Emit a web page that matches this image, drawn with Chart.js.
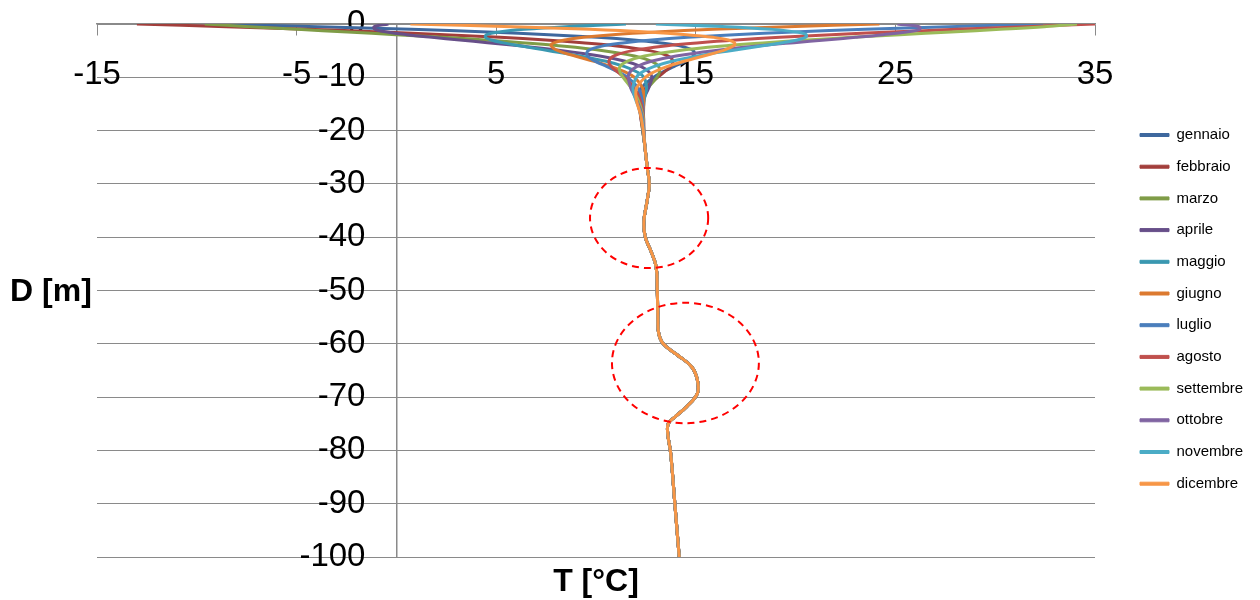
<!DOCTYPE html>
<html>
<head>
<meta charset="utf-8">
<script src="https://cdn.jsdelivr.net/npm/chart.js@4.4.1/dist/chart.umd.min.js"></script>
<style>
  html, body { margin: 0; padding: 0; background: #ffffff; overflow: hidden; }
  #wrap { width: 1260px; height: 600px; overflow: hidden; }
  #c { display: block; }
</style>
</head>
<body>
<div id="wrap"><canvas id="c" width="1260" height="600"></canvas></div>
<script>
// ---------- DATA ----------
const months = ['gennaio', 'febbraio', 'marzo', 'aprile', 'maggio', 'giugno',
                'luglio', 'agosto', 'settembre', 'ottobre', 'novembre', 'dicembre'];

const xTickValues = [-15, -5, 5, 15, 25, 35];

// depths (m) of the shallow, month-dependent part
const depthUpper = [0, -0.5, -1, -1.5, -2, -2.5, -3, -3.5, -4, -5, -6, -7, -8, -9, -10, -12, -14, -17, -20];

const tGennaio   = [-9.5, -3.93, 0.73, 4.58, 7.64, 10.07, 11.89, 13.17, 14.05, 14.88, 14.88, 14.46, 13.90, 13.34, 12.89, 12.28, 12.10, 12.22, 12.35];
const tFebbraio  = [-13, -8.53, -4.45, -0.78, 2.42, 5.19, 7.48, 9.31, 10.76, 12.68, 13.60, 13.86, 13.73, 13.43, 13.09, 12.49, 12.21, 12.23, 12.34];
const tMarzo     = [-9.6, -7.38, -4.96, -2.46, -0.02, 2.32, 4.44, 6.29, 7.90, 10.37, 11.93, 12.79, 13.14, 13.18, 13.05, 12.61, 12.32, 12.27, 12.34];
const tAprile    = [-0.4, -1.11, -1.08, -0.47, 0.52, 1.79, 3.17, 4.56, 5.91, 8.32, 10.19, 11.47, 12.26, 12.66, 12.80, 12.64, 12.41, 12.31, 12.35];
const tMaggio    = [11.5, 8.48, 6.40, 5.14, 4.52, 4.46, 4.76, 5.30, 6.00, 7.64, 9.21, 10.50, 11.44, 12.05, 12.40, 12.53, 12.43, 12.35, 12.36];
const tGiugno    = [24.2, 19.60, 15.87, 12.98, 10.83, 9.37, 8.44, 7.92, 7.74, 8.10, 8.95, 9.91, 10.77, 11.45, 11.93, 12.33, 12.39, 12.38, 12.38];
const tLuglio    = [32.4, 27.68, 23.48, 19.90, 16.93, 14.59, 12.79, 11.44, 10.50, 9.61, 9.57, 9.98, 10.55, 11.11, 11.58, 12.11, 12.30, 12.38, 12.39];
const tAgosto    = [35, 31.53, 28.05, 24.78, 21.78, 19.21, 17.02, 15.19, 13.74, 11.82, 10.90, 10.64, 10.77, 11.07, 11.41, 11.91, 12.19, 12.37, 12.40];
const tSettembre = [34.1, 32.47, 30.25, 27.79, 25.23, 22.81, 20.56, 18.52, 16.76, 14.09, 12.43, 11.55, 11.20, 11.20, 11.36, 11.76, 12.08, 12.34, 12.40];
const tOttobre   = [25.1, 26.19, 26.22, 25.55, 24.39, 23.01, 21.49, 19.93, 18.45, 15.90, 14.01, 12.77, 12.04, 11.70, 11.62, 11.74, 12.00, 12.30, 12.40];
const tNovembre  = [13.0, 16.54, 18.78, 20.04, 20.53, 20.51, 20.08, 19.36, 18.52, 16.73, 15.09, 13.80, 12.89, 12.32, 12.02, 11.85, 11.97, 12.26, 12.38];
const tDicembre  = [0.7, 5.82, 9.70, 12.56, 14.54, 15.88, 16.64, 16.93, 16.94, 16.34, 15.39, 14.40, 13.55, 12.90, 12.47, 12.04, 12.01, 12.23, 12.37];

// deep part, identical for every month
const depthDeep = [-23, -27, -30, -33, -37, -40, -42.5, -45.5, -50, -55, -58, -60, -62, -64.3, -66.8, -69.3, -71.8, -73.7, -75, -77, -80.5, -90, -100];
const tempDeep  = [12.45, 12.57, 12.67, 12.57, 12.40, 12.47, 12.74, 13.01, 13.07, 13.10, 13.14, 13.37, 14.04, 14.79, 15.08, 15.08, 14.54, 13.96, 13.62, 13.60, 13.74, 13.95, 14.17];

// highlighted zones (dashed ellipses), in data units
const zoneCenterT = [12.66, 14.48];
const zoneCenterD = [-36.4, -63.6];
const zoneHalfT   = [2.96, 3.68];
const zoneHalfD   = [9.4, 11.3];

// ---------- STYLE ----------
const monthTemps = [tGennaio, tFebbraio, tMarzo, tAprile, tMaggio, tGiugno,
                    tLuglio, tAgosto, tSettembre, tOttobre, tNovembre, tDicembre];
const monthColors = ['#3E689E', '#A23E3B', '#7F9C47', '#674F89', '#3A98B1', '#DC7A30',
                     '#4A7EBC', '#C0504D', '#9BBB59', '#8064A2', '#4BACC6', '#F79646'];
const FONT = '"Liberation Sans", Arial, sans-serif';
const AXIS_GRAY = '#8a8a8a';
const Y_LABEL_AT = -1.55;   // x value where the depth labels are right-aligned

function buildPoints(upper) {
  const pts = depthUpper.map((d, i) => ({ x: upper[i], y: d }));
  return pts.concat(depthDeep.map((d, i) => ({ x: tempDeep[i], y: d })));
}

const datasets = months.map((m, i) => ({
  label: m,
  data: buildPoints(monthTemps[i]),
  borderColor: monthColors[i],
  backgroundColor: monthColors[i],
  borderWidth: 3,
  pointRadius: 0,
  pointHoverRadius: 0,
  showLine: true,
  tension: 0.4,
  order: months.length - i
}));

const zonePlugin = {
  id: 'zones',
  afterDatasetsDraw(chart) {
    const { ctx, scales: { x, y } } = chart;
    ctx.save();
    ctx.strokeStyle = '#FF0000';
    ctx.lineWidth = 2;
    ctx.setLineDash([7, 5]);
    for (let i = 0; i < zoneCenterT.length; i++) {
      const cx = x.getPixelForValue(zoneCenterT[i]);
      const cy = y.getPixelForValue(zoneCenterD[i]);
      const rx = Math.abs(x.getPixelForValue(zoneCenterT[i] + zoneHalfT[i]) - cx);
      const ry = Math.abs(y.getPixelForValue(zoneCenterD[i] + zoneHalfD[i]) - cy);
      ctx.beginPath();
      ctx.ellipse(cx, cy, rx, ry, 0, 0, Math.PI * 2);
      ctx.stroke();
    }
    ctx.restore();
  }
};

const axisTitlePlugin = {
  id: 'axisTitles',
  afterDraw(chart) {
    const { ctx, chartArea: ca, scales: { y } } = chart;
    ctx.save();
    ctx.fillStyle = '#000';
    ctx.font = 'bold 32px ' + FONT;
    ctx.textAlign = 'center';
    ctx.textBaseline = 'middle';
    ctx.fillText('D [m]', 51, y.getPixelForValue(-50) + 2);
    ctx.fillText('T [°C]', (ca.left + ca.right) / 2, ca.bottom + 25);
    ctx.restore();
  }
};

new Chart(document.getElementById('c'), {
  type: 'scatter',
  data: { datasets },
  options: {
    responsive: false,
    animation: false,
    devicePixelRatio: 1,
    layout: { padding: { left: 97, top: 24, bottom: 43, right: 16.7 } },
    scales: {
      x: {
        type: 'linear',
        min: -15,
        max: 35,
        position: { y: 0 },
        afterBuildTicks(scale) { scale.ticks = xTickValues.map(v => ({ value: v })); },
        grid: { drawOnChartArea: false, drawTicks: true, tickLength: 11, color: AXIS_GRAY, lineWidth: 1 },
        border: { display: true, color: AXIS_GRAY, width: 1.5 },
        ticks: { color: '#000', font: { family: FONT, size: 33 }, padding: 20, maxRotation: 0, autoSkip: false }
      },
      y: {
        type: 'linear',
        min: -100,
        max: 0,
        position: { x: 0 },
        grid: { drawOnChartArea: true, drawTicks: false, color: AXIS_GRAY, lineWidth: 1 },
        border: { display: true, color: AXIS_GRAY, width: 1.5 },
        ticks: { stepSize: 10, display: false }
      },
      yLabels: {
        type: 'linear',
        axis: 'y',
        min: -100,
        max: 0,
        position: { x: Y_LABEL_AT },
        grid: { display: false },
        border: { display: false },
        ticks: { stepSize: 10, color: '#000', font: { family: FONT, size: 33 }, padding: 0 }
      },
      gap: {
        type: 'linear',
        axis: 'y',
        position: 'right',
        display: true,
        grid: { display: false },
        border: { display: false },
        ticks: { display: false },
        afterFit(scale) { scale.width = 28.3; }
      }
    },
    plugins: {
      tooltip: { enabled: false },
      legend: {
        position: 'right',
        reverse: true,
        maxWidth: 120,
        title: { display: true, text: '', font: { size: 10, lineHeight: 1 }, padding: { top: 0, bottom: 27.7 } },
        labels: {
          boxWidth: 29,
          boxHeight: 3,
          padding: 16.7,
          color: '#000',
          font: { family: FONT, size: 15 },
          generateLabels(chart) {
            const items = Chart.defaults.plugins.legend.labels.generateLabels(chart);
            items.forEach(it => { it.fillStyle = it.strokeStyle; it.lineWidth = 1; });
            return items;
          }
        }
      }
    }
  },
  plugins: [zonePlugin, axisTitlePlugin]
});
</script>
</body>
</html>
